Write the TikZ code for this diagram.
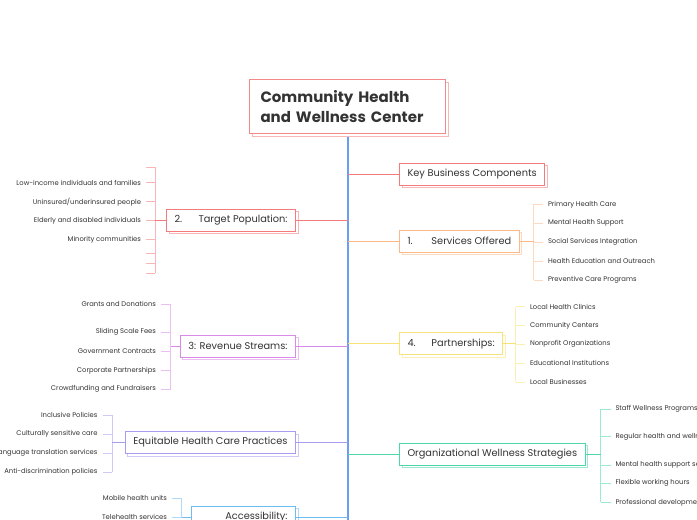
\documentclass[tikz,border=0pt]{standalone}
\usepackage{fontspec}
\setmainfont{Poppins}
\usetikzlibrary{positioning,shadows}
\definecolor{texte}{HTML}{333333}
\definecolor{tronc}{HTML}{6A9EF2}
\definecolor{saumon}{HTML}{F28888}
\definecolor{rouge}{HTML}{F47B7B}
\definecolor{abricot}{HTML}{FBB98A}
\definecolor{mauve}{HTML}{D98AE6}
\definecolor{jaune}{HTML}{F5E37A}
\definecolor{lavande}{HTML}{A89CF2}
\definecolor{turquoise}{HTML}{4DD6A6}
\definecolor{ciel}{HTML}{6EBCF2}

\begin{document}
\begin{tikzpicture}[x=1pt,y=-1pt]
\tikzstyle{titre}=[draw=saumon,line width=1pt,fill=white,anchor=north west,minimum width=196pt,minimum height=54pt,text width=174pt,inner xsep=11pt,align=left,font=\fontsize{15}{19.5}\selectfont\bfseries,text=texte,general shadow={shadow xshift=2.5pt,shadow yshift=-2.5pt,draw=saumon!60,fill=white,line width=1pt}]
\tikzstyle{boite}=[draw=#1,line width=1pt,fill=white,minimum height=22pt,inner xsep=8pt,inner ysep=0pt,font=\fontsize{9.8}{12}\selectfont,text=texte,general shadow={shadow xshift=2.5pt,shadow yshift=-2.5pt,draw=#1!55,fill=white,line width=1pt}]
\tikzstyle{feuille}=[inner sep=0pt,outer xsep=5pt,font=\fontsize{6.8}{8}\selectfont,text=texte]
\tikzstyle{lien}=[draw=#1,line width=1pt]
\tikzstyle{crochet}=[draw=#1!55,line width=.8pt]
\def\Tronc{348}
\def\BordG{296}
\def\BordD{399}
\useasboundingbox[fill=white] (0,0) rectangle (697,520);
% tronc central
\coordinate (haut) at (\Tronc,133);
\coordinate (bas) at (\Tronc,530);
\draw[line width=1.5pt,tronc] (haut)--(bas);
% branches
\node[boite=rouge,anchor=west] (KBC) at (\BordD,174.2) {Key Business Components};
\node[boite=rouge,anchor=east] (POP) at (\BordG,220.3) {\makebox[24pt][l]{2.}Target Population:};
\node[boite=abricot,anchor=west] (SRV) at (\BordD,241) {\makebox[24pt][l]{1.}Services Offered};
\node[boite=mauve,anchor=east] (REV) at (\BordG,346) {3: Revenue Streams:};
\node[boite=jaune,anchor=west] (PAR) at (\BordD,343.8) {\makebox[24pt][l]{4.}Partnerships:};
\node[boite=lavande,anchor=east] (EQU) at (\BordG,442.5) {Equitable Health Care Practices};
\node[boite=turquoise,anchor=west] (ORG) at (\BordD,454) {Organizational Wellness Strategies};
\node[boite=ciel,anchor=east,text width=88.3pt,align=right] (ACC) at (\BordG,517) {Accessibility:};
\draw[lien=rouge] (KBC.west)--(KBC.west -| haut);
\draw[lien=rouge] (POP.east)--(POP.east -| haut);
\draw[lien=abricot] (SRV.west)--(SRV.west -| haut);
\draw[lien=mauve] (REV.east)--(REV.east -| haut);
\draw[lien=jaune] (PAR.west)--(PAR.west -| haut);
\draw[lien=lavande] (EQU.east)--(EQU.east -| haut);
\draw[lien=turquoise] (ORG.west)--(ORG.west -| haut);
\draw[lien=ciel] (ACC.east)--(ACC.east -| haut);
% titre
\node[titre] (T) at (249,79) {Community Health\\and Wellness Center};
% 2. Target Population
\coordinate (POPc) at (155,0);
\coordinate (POP0) at (146,167);
\node[feuille,anchor=east] (POP1) at (146,182.7) {Low-income individuals and families};
\node[feuille,anchor=east] (POP2) at (146,201.7) {Uninsured/underinsured people};
\node[feuille,anchor=east] (POP3) at (146,220.7) {Elderly and disabled individuals};
\node[feuille,anchor=east] (POP4) at (146,239.3) {Minority communities};
\coordinate (POP5) at (146,253.3);
\coordinate (POP6) at (146,263.3);
\coordinate (POP7) at (146,273.3);
\draw[crochet=rouge] (POP0 -| POPc)--(POP7 -| POPc);
\draw[crochet=rouge] (POP0)--(POP0 -| POPc);
\draw[crochet=rouge] (POP1.east)--(POP1.east -| POPc);
\draw[crochet=rouge] (POP2.east)--(POP2.east -| POPc);
\draw[crochet=rouge] (POP3.east)--(POP3.east -| POPc);
\draw[crochet=rouge] (POP4.east)--(POP4.east -| POPc);
\draw[crochet=rouge] (POP5)--(POP5 -| POPc);
\draw[crochet=rouge] (POP6)--(POP6 -| POPc);
\draw[crochet=rouge] (POP7)--(POP7 -| POPc);
\draw[lien=rouge] (POP.west)--(POP.west -| POPc);
% 1. Services Offered
\coordinate (SRVc) at (533.5,0);
\node[feuille,anchor=west] (SRV1) at (543,204.3) {Primary Health Care};
\node[feuille,anchor=west] (SRV2) at (543,223.3) {Mental Health Support};
\node[feuille,anchor=west] (SRV3) at (543,242.3) {Social Services Integration};
\node[feuille,anchor=west] (SRV4) at (543,261.3) {Health Education and Outreach};
\node[feuille,anchor=west] (SRV5) at (543,280.3) {Preventive Care Programs};
\draw[crochet=abricot] (SRV1.west -| SRVc)--(SRV5.west -| SRVc);
\draw[crochet=abricot] (SRV1.west)--(SRV1.west -| SRVc);
\draw[crochet=abricot] (SRV2.west)--(SRV2.west -| SRVc);
\draw[crochet=abricot] (SRV3.west)--(SRV3.west -| SRVc);
\draw[crochet=abricot] (SRV4.west)--(SRV4.west -| SRVc);
\draw[crochet=abricot] (SRV5.west)--(SRV5.west -| SRVc);
\draw[lien=abricot] (SRV.east)--(SRV.east -| SRVc);
% 3: Revenue Streams
\coordinate (REVc) at (170.7,0);
\node[feuille,anchor=east] (REV1) at (161,304.3) {Grants and Donations};
\node[feuille,anchor=east] (REV2) at (161,332.3) {Sliding Scale Fees};
\node[feuille,anchor=east] (REV3) at (161,351.3) {Government Contracts};
\node[feuille,anchor=east] (REV4) at (161,370.3) {Corporate Partnerships};
\node[feuille,anchor=east] (REV5) at (161,389.3) {Crowdfunding and Fundraisers};
\draw[crochet=mauve] (REV1.east -| REVc)--(REV5.east -| REVc);
\draw[crochet=mauve] (REV1.east)--(REV1.east -| REVc);
\draw[crochet=mauve] (REV2.east)--(REV2.east -| REVc);
\draw[crochet=mauve] (REV3.east)--(REV3.east -| REVc);
\draw[crochet=mauve] (REV4.east)--(REV4.east -| REVc);
\draw[crochet=mauve] (REV5.east)--(REV5.east -| REVc);
\draw[lien=mauve] (REV.west)--(REV.west -| REVc);
% 4. Partnerships
\coordinate (PARc) at (515.7,0);
\node[feuille,anchor=west] (PAR1) at (525,306.7) {Local Health Clinics};
\node[feuille,anchor=west] (PAR2) at (525,325.7) {Community Centers};
\node[feuille,anchor=west] (PAR3) at (525,344.3) {Nonprofit Organizations};
\node[feuille,anchor=west] (PAR4) at (525,363.3) {Educational Institutions};
\node[feuille,anchor=west] (PAR5) at (525,382.3) {Local Businesses};
\draw[crochet=jaune] (PAR1.west -| PARc)--(PAR5.west -| PARc);
\draw[crochet=jaune] (PAR1.west)--(PAR1.west -| PARc);
\draw[crochet=jaune] (PAR2.west)--(PAR2.west -| PARc);
\draw[crochet=jaune] (PAR3.west)--(PAR3.west -| PARc);
\draw[crochet=jaune] (PAR4.west)--(PAR4.west -| PARc);
\draw[crochet=jaune] (PAR5.west)--(PAR5.west -| PARc);
\draw[lien=jaune] (PAR.east)--(PAR.east -| PARc);
% Equitable Health Care Practices
\coordinate (EQUc) at (112.3,0);
\node[feuille,anchor=east] (EQU1) at (102.5,415) {Inclusive Policies};
\node[feuille,anchor=east] (EQU2) at (102.5,434) {Culturally sensitive care};
\node[feuille,anchor=east] (EQU3) at (102.5,453) {Language translation services};
\node[feuille,anchor=east] (EQU4) at (102.5,472) {Anti-discrimination policies};
\draw[crochet=lavande] (EQU1.east -| EQUc)--(EQU4.east -| EQUc);
\draw[crochet=lavande] (EQU1.east)--(EQU1.east -| EQUc);
\draw[crochet=lavande] (EQU2.east)--(EQU2.east -| EQUc);
\draw[crochet=lavande] (EQU3.east)--(EQU3.east -| EQUc);
\draw[crochet=lavande] (EQU4.east)--(EQU4.east -| EQUc);
\draw[lien=lavande] (EQU.west)--(EQU.west -| EQUc);
% Organizational Wellness Strategies
\coordinate (ORGc) at (600.7,0);
\node[feuille,anchor=west] (ORG1) at (610.5,409) {Staff Wellness Programs};
\node[feuille,anchor=west] (ORG2) at (610.5,436.7) {Regular health and wellness check-ups};
\node[feuille,anchor=west] (ORG3) at (610.5,465) {Mental health support services};
\node[feuille,anchor=west] (ORG4) at (610.5,483.3) {Flexible working hours};
\node[feuille,anchor=west] (ORG5) at (610.5,502.3) {Professional development};
\draw[crochet=turquoise] (ORG1.west -| ORGc)--(ORG5.west -| ORGc);
\draw[crochet=turquoise] (ORG1.west)--(ORG1.west -| ORGc);
\draw[crochet=turquoise] (ORG2.west)--(ORG2.west -| ORGc);
\draw[crochet=turquoise] (ORG3.west)--(ORG3.west -| ORGc);
\draw[crochet=turquoise] (ORG4.west)--(ORG4.west -| ORGc);
\draw[crochet=turquoise] (ORG5.west)--(ORG5.west -| ORGc);
\draw[lien=turquoise] (ORG.east)--(ORG.east -| ORGc);
% Accessibility
\coordinate (ACCc) at (181.7,0);
\node[feuille,anchor=east] (ACC1) at (172,498.3) {Mobile health units};
\node[feuille,anchor=east] (ACC2) at (172,517.3) {Telehealth services};
\draw[crochet=ciel] (ACC1.east -| ACCc)--(ACC2.east -| ACCc);
\draw[crochet=ciel] (ACC1.east)--(ACC1.east -| ACCc);
\draw[crochet=ciel] (ACC2.east)--(ACC2.east -| ACCc);
\draw[lien=ciel] (ACC.west)--(ACC.west -| ACCc);
\end{tikzpicture}
\end{document}
